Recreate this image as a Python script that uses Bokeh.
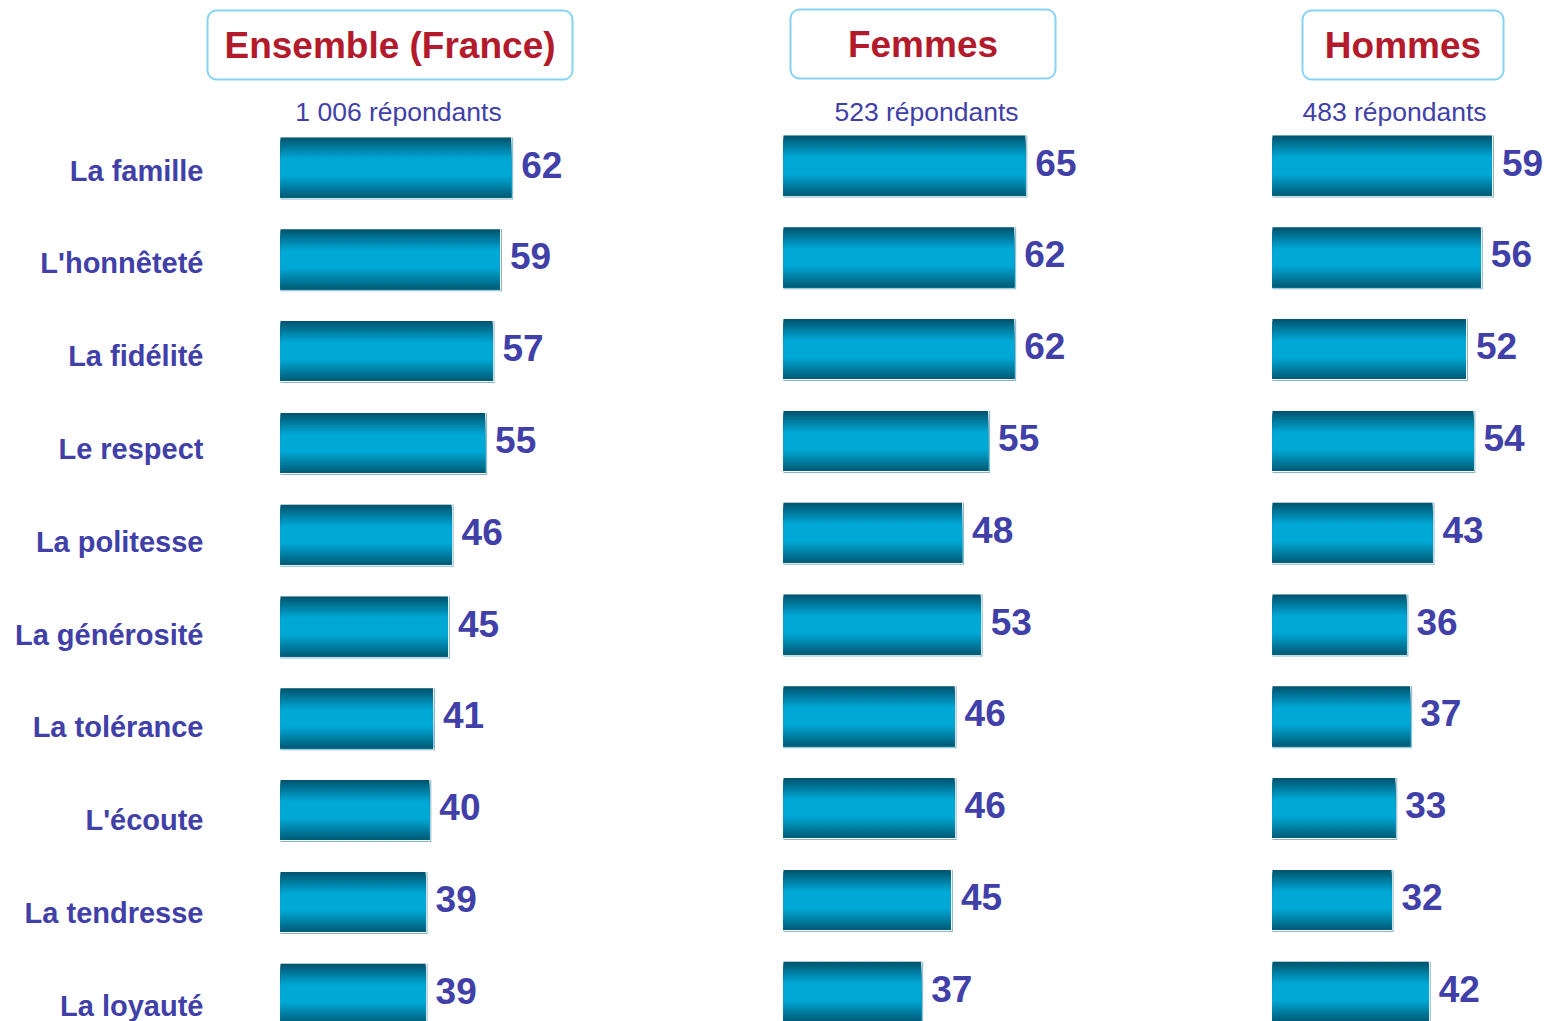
from bokeh.plotting import figure
from bokeh.models import Range1d, ColumnDataSource, BoxAnnotation
from bokeh.core.properties import value
from bokeh.embed import file_html
from bokeh.resources import INLINE

# ---------------- data ----------------
categories = ["La famille", "L'honnêteté", "La fidélité", "Le respect", "La politesse",
              "La générosité", "La tolérance", "L'écoute", "La tendresse", "La loyauté"]
ensemble = [62, 59, 57, 55, 46, 45, 41, 40, 39, 39]
femmes = [65, 62, 62, 55, 48, 53, 46, 46, 45, 37]
hommes = [59, 56, 52, 54, 43, 36, 37, 33, 32, 42]
panel_titles = ["Ensemble (France)", "Femmes", "Hommes"]
panel_subtitles = ["1 006 répondants", "523 répondants", "483 répondants"]

# ---------------- layout constants (pixels) ----------------
W, H = 1550, 1021
PX = 3.72          # px per percentage point
ROW = 91.8         # px per row
X0 = 280           # page x of first panel bar start
Y0 = 167           # page y of first row centre
panel_start_px = [280, 783, 1272]
panel_shift_px = [0, -2, -2]
box_px = [(207, 572, 10, 79), (790, 1055, 9, 78), (1302, 1503, 10, 79)]
sub_center_px = [398, 926, 1394]


def X(px):
    return (px - X0) / PX


def Y(py):
    return (py - Y0) / ROW


NAVY = "#4040a8"
RED = "#b31a2b"
FONT = "Liberation Sans"
BAR_H = 60 / ROW

p = figure(width=W, height=H, output_backend="svg", toolbar_location=None,
           x_range=Range1d(X(0), X(W)), y_range=Range1d(Y(H), Y(0)),
           min_border=0, outline_line_color=None)
p.axis.visible = False
p.grid.visible = False

# gradient helper
stops = [(0.0, (0, 82, 108)), (0.36, (0, 168, 214)), (0.64, (0, 168, 214)), (1.0, (0, 90, 116))]


def grad(t):
    for (t0, c0), (t1, c1) in zip(stops[:-1], stops[1:]):
        if t0 <= t <= t1:
            f = (t - t0) / (t1 - t0) if t1 > t0 else 0
            return "#%02x%02x%02x" % tuple(int(round(a + (b - a) * f)) for a, b in zip(c0, c1))
    return "#%02x%02x%02x" % stops[-1][1]


N = 30
series = [ensemble, femmes, hommes]
for pi, vals in enumerate(series):
    off = X(panel_start_px[pi])
    dy = panel_shift_px[pi] / ROW
    rows = [i + dy for i in range(len(categories))]
    # outline shadow
    p.hbar(y=[r + 1 / ROW for r in rows], left=off, right=[off + v + 2 / PX for v in vals],
           height=BAR_H + 2 / ROW, fill_color="#86b6c6", line_color=None)
    p.hbar(y=[r + 0.5 / ROW for r in rows], left=off, right=[off + v + 1 / PX for v in vals],
           height=BAR_H + 1 / ROW, fill_color="white", line_color=None)
    # gradient: each stripe spans from its top to the bar bottom, later ones overpaint
    tops, bottoms, rights, cols = [], [], [], []
    for r, v in zip(rows, vals):
        for k in range(N):
            t = (k + 0.5) / N
            tops.append(r - BAR_H / 2 + k * BAR_H / N)
            bottoms.append(r + BAR_H / 2)
            rights.append(off + v)
            cols.append(grad(t))
    src = ColumnDataSource(dict(top=tops, bottom=bottoms, right=rights, c=cols))
    p.quad(top="top", bottom="bottom", left=off, right="right", fill_color="c",
           line_color=None, source=src)
    # value labels
    p.text(x=[off + v for v in vals], y=rows, text=[str(v) for v in vals],
           x_offset=10, y_offset=-3, text_align="left", text_baseline="middle",
           text_font=value(FONT), text_font_style="bold", text_font_size="37px",
           text_color=NAVY)

# row labels (slightly wider spacing than the bars in the original)
lab_src = ColumnDataSource(dict(y=list(range(len(categories))), text=categories,
                                dy=[3 + 1.0 * i for i in range(len(categories))]))
p.text(x=0, y="y", text="text", source=lab_src, x_offset=-77, y_offset="dy",
       text_align="right", text_baseline="middle", text_font=value(FONT),
       text_font_style="bold", text_font_size="29px", text_color=NAVY)

# title boxes
for (l, r, t, b), title, sub, sc in zip(box_px, panel_titles, panel_subtitles, sub_center_px):
    p.add_layout(BoxAnnotation(left=X(l), right=X(r), top=Y(t), bottom=Y(b),
                               fill_color="white", fill_alpha=1.0, line_color="#86d3f3",
                               line_alpha=1.0, line_width=2, border_radius=9,
                               level="underlay"))
    p.text(x=[X((l + r) / 2)], y=[Y((t + b) / 2)], text=[title], text_align="center",
           text_baseline="middle", text_font=value(FONT), text_font_style="bold",
           text_font_size="37px", text_color=RED)
    p.text(x=[X(sc)], y=[Y(111)], text=[sub], text_align="center", text_baseline="middle",
           text_font=value(FONT), text_font_size="26.5px", text_color=NAVY)

open("out.html", "w").write(file_html(p, INLINE))
